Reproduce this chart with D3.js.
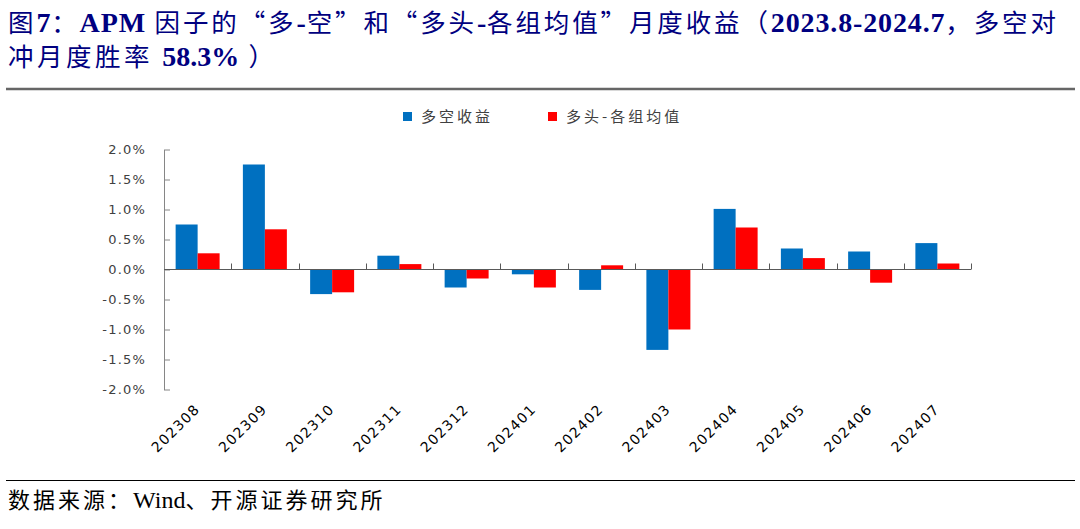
<!DOCTYPE html>
<html><head><meta charset="utf-8">
<script src="https://cdn.jsdelivr.net/npm/d3@7/dist/d3.min.js"></script>
<style>body{margin:0;background:#fff}svg{display:block}</style>
</head><body>
<svg id="c" width="1080" height="529"></svg>
<script>
const months = ["202308","202309","202310","202311","202312","202401","202402","202403","202404","202405","202406","202407"];
const seriesNames = ["多空收益","多头-各组均值"];
const longShort = [0.75,1.75,-0.41,0.23,-0.30,-0.08,-0.34,-1.34,1.01,0.35,0.30,0.44];
const longAvg   = [0.27,0.67,-0.38,0.09,-0.15,-0.30,0.07,-1.00,0.70,0.19,-0.22,0.10];
const yTicks = [-2.0,-1.5,-1.0,-0.5,0.0,0.5,1.0,1.5,2.0];
const colors = ["#0070C0","#FF0000"];

const svg = d3.select("#c");
const latin = "'Liberation Serif','Times New Roman',serif";
const cjk = "'Noto Sans CJK SC',sans-serif";

// Title: segments [text, isLatinBold]
function titleLine(yPos, segs, fit, ls) {
  const t = svg.append("text").attr("x",8).attr("y",yPos).attr("fill","#000080");
  segs.forEach(([s,b])=>{
    t.append("tspan").text(s)
      .style("font-family", b?latin:cjk)
      .style("font-weight", b?"bold":"normal")
      .style("font-size", b?"28px":"25.5px")
      .style("letter-spacing", b?"0px":ls);
  });
  if (fit) t.attr("textLength", fit).attr("lengthAdjust","spacing");
  return t;
}
titleLine(32, [["图",0],["7",1],["：",0],["APM",1],[" 因子的“多",0],["-",1],["空”和“多头",0],["-",1],["各组均值”月度收益（",0],["2023.8-2024.7",1],["，多空对",0]], 1050, "2px");
titleLine(66, [["冲月度胜率 ",0],["58.3%",1],[" ）",0]], null, "3.5px");
svg.append("line").attr("x1",6).attr("x2",1075).attr("y1",89).attr("y2",89).attr("stroke","#666").attr("stroke-width",2.5);

// Scales
const x0 = d3.scaleBand().domain(months).range([164,971]).padding(0);
const bw = x0.bandwidth();
const x1 = d3.scaleBand().domain(seriesNames).range([bw*0.173, bw*0.827]).padding(0);
const y = d3.scaleLinear().domain([-2,2]).range([389.5,149.5]);

// Bars
const g = svg.append("g");
const data = months.map((m,i)=>({m, vals:[longShort[i], longAvg[i]]}));
const grp = g.selectAll("g.grp").data(data).join("g").attr("transform",d=>`translate(${x0(d.m)},0)`);
grp.selectAll("rect").data(d=>d.vals.map((v,j)=>({v,j}))).join("rect")
  .attr("x",d=>x1(seriesNames[d.j]))
  .attr("width",x1.bandwidth())
  .attr("y",d=>y(Math.max(0,d.v)))
  .attr("height",d=>Math.abs(y(d.v)-y(0)))
  .attr("fill",d=>colors[d.j]);

// Y axis
const fmt = v => d3.format(".1f")(v).replace("−","-") + "%";
const yAxis = d3.axisLeft(y).tickValues(yTicks).tickFormat(fmt).tickSizeInner(-6).tickSizeOuter(0).tickPadding(18);
const ya = svg.append("g").attr("transform","translate(164,0)").call(yAxis);
ya.select(".domain").attr("stroke","#868686");
ya.selectAll(".tick line").attr("stroke","#868686");
ya.selectAll("text").attr("fill","#404040").style("font-family","'DejaVu Sans',sans-serif").style("font-size","13px").style("letter-spacing","1.2px");

// X axis at zero
const xa = svg.append("g").attr("transform",`translate(0,${y(0)})`);
xa.append("line").attr("x1",164).attr("x2",971).attr("stroke","#595959").attr("stroke-width",1.2);
const bounds = months.map(m=>x0(m)).concat([x0(months[months.length-1])+bw]).slice(1);
xa.selectAll("line.tk").data(bounds).join("line").attr("class","tk")
  .attr("x1",d=>Math.round(d)+0.5).attr("x2",d=>Math.round(d)+0.5).attr("y1",0).attr("y2",-6).attr("stroke","#595959");

// X labels
svg.append("g").selectAll("text").data(months).join("text")
  .attr("transform",d=>`translate(${x0(d)+bw/2+3},410) rotate(-45)`)
  .attr("text-anchor","end").attr("fill","#000")
  .style("font-family","'DejaVu Sans',sans-serif").style("font-size","14px").style("letter-spacing","1.3px")
  .text(d=>d);

// Legend
const lg = svg.append("g");
const lx = [403, 548];
seriesNames.forEach((s,i)=>{
  lg.append("rect").attr("x",lx[i]).attr("y",112).attr("width",9).attr("height",9).attr("fill",colors[i]);
  lg.append("text").attr("x",lx[i]+18).attr("y",122).text(s).attr("fill","#404040")
    .style("font-family",cjk).style("font-size","15px").style("letter-spacing","3px");
});

// Footer
svg.append("line").attr("x1",6).attr("x2",1075).attr("y1",480.5).attr("y2",480.5).attr("stroke","#000").attr("stroke-width",1);
const ft = svg.append("text").attr("x",8).attr("y",508).attr("fill","#000");
[["数据来源：",0],["Wind",1],["、开源证券研究所",0]].forEach(([s,b])=>{
  ft.append("tspan").text(s).style("font-family", b?latin:cjk)
    .style("font-size", b?"24px":"22px").style("letter-spacing", b?"0px":"3px");
});
</script>
</body></html>
